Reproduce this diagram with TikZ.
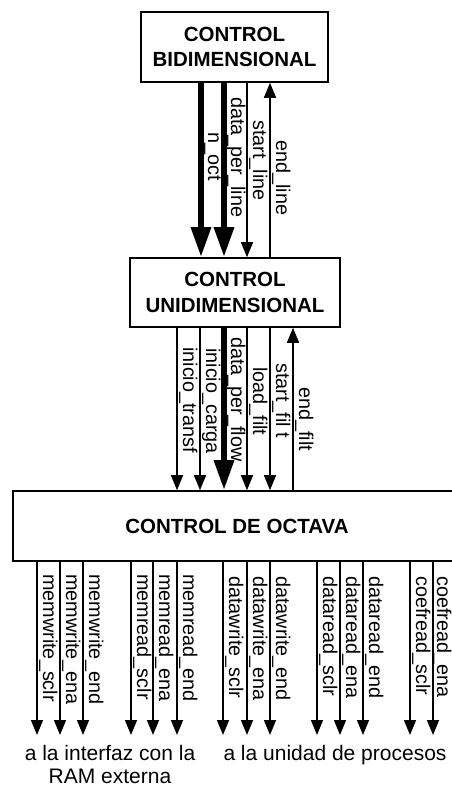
\documentclass[tikz,border=0pt]{standalone}
\usepackage{fontspec}
\setmainfont{Liberation Sans}
\usetikzlibrary{arrows.meta, positioning, calc}

\tikzset{
	ctrlbox/.style={draw, line width=1.6pt, inner sep=0pt, align=center,
			font=\fontsize{20.5}{25.5}\selectfont\bfseries}
}
\tikzset{
	sigtext/.style={rotate=-90, anchor=base west, inner sep=0pt,
			font=\fontsize{19.8}{22}\selectfont}
}
\tikzset{
	desttext/.style={anchor=north, inner sep=0pt, align=center,
			font=\fontsize{21}{23.5}\selectfont}
}
\tikzset{
	thinsig/.style={line width=1.5pt, -{Triangle[length=15pt,width=12pt]}},
	thicksig/.style={line width=6pt, -{Triangle[length=30pt,width=19pt]}},
	backsig/.style={line width=1.5pt, {Triangle[length=15pt,width=12pt]}-}
}

\begin{document}
\begin{tikzpicture}[x=1pt,y=1pt]

			\useasboundingbox (0,0) rectangle (452,-787);
			\clip (0,0) rectangle (452,-787);

			\node[ctrlbox, minimum width=187pt, minimum height=70pt] (bidi) at (234.5,-47) {CONTROL\\BIDIMENSIONAL};
			\node[ctrlbox, minimum width=210pt, minimum height=69pt] (uni) at (235,-292.5) {CONTROL\\UNIDIMENSIONAL};
			\node[ctrlbox, minimum width=448pt, minimum height=70pt] (octava) at (237,-526) {CONTROL DE OCTAVA};

			\begin{scope}
				\coordinate (noct) at (201,0);
				\coordinate (dpl) at (224,0);
				\coordinate (sline) at (247,0);
				\coordinate (eline) at (270,0);

				\draw[thicksig] (bidi.south -| noct) -- (uni.north -| noct);
				\draw[thicksig] (bidi.south -| dpl) -- (uni.north -| dpl);
				\draw[thinsig] (bidi.south -| sline) -- (uni.north -| sline);
				\draw[backsig] (bidi.south -| eline) -- (uni.north -| eline);

				\node[sigtext] (lnoct) at (208,-132) {n\_oct};
				\node[sigtext] (ldpl) at (231,-97) {data\_per\_line};
				\node[sigtext] (lsline) at (253,-120) {start\_line};
				\node[sigtext] (leline) at (276,-140) {end\_line};
			\end{scope}

			\begin{scope}
				\coordinate (itransf) at (177,0);
				\coordinate (icarga) at (200,0);
				\coordinate (dpf) at (224,0);
				\coordinate (lfilt) at (247,0);
				\coordinate (sfilt) at (270,0);
				\coordinate (efilt) at (293,0);

				\draw[thinsig] (uni.south -| itransf) -- (octava.north -| itransf);
				\draw[thinsig] (uni.south -| icarga) -- (octava.north -| icarga);
				\draw[thicksig] (uni.south -| dpf) -- (octava.north -| dpf);
				\draw[thinsig] (uni.south -| lfilt) -- (octava.north -| lfilt);
				\draw[thinsig] (uni.south -| sfilt) -- (octava.north -| sfilt);
				\draw[backsig] (uni.south -| efilt) -- (octava.north -| efilt);

				\node[sigtext] (litransf) at (183,-347) {inicio\_transf};
				\node[sigtext] (licarga) at (206,-348) {inicio\_carga};
				\node[sigtext] (ldpf) at (231,-337) {data\_per\_flow};
				\node[sigtext] (llfilt) at (253,-367) {load\_filt};
				\node[sigtext] (lsfilt) at (276,-363) {start\_fil t};
				\node[sigtext] (lefilt) at (299,-387) {end\_filt};
			\end{scope}

			\begin{scope}
				\coordinate (mwsclr) at (37,-735);
				\coordinate (mwena) at (60,-735);
				\coordinate (mwend) at (83,-735);
				\coordinate (mrsclr) at (131,-735);
				\coordinate (mrena) at (153,-735);
				\coordinate (mrend) at (177,-735);
				\coordinate (dwsclr) at (223,-735);
				\coordinate (dwena) at (247,-735);
				\coordinate (dwend) at (270,-735);
				\coordinate (drsclr) at (317,-735);
				\coordinate (drena) at (340,-735);
				\coordinate (drend) at (363,-735);
				\coordinate (crsclr) at (410,-735);
				\coordinate (crena) at (433,-735);

				\draw[thinsig] (octava.south -| mwsclr) -- (mwsclr);
				\draw[thinsig] (octava.south -| mwena) -- (mwena);
				\draw[thinsig] (octava.south -| mwend) -- (mwend);
				\draw[thinsig] (octava.south -| mrsclr) -- (mrsclr);
				\draw[thinsig] (octava.south -| mrena) -- (mrena);
				\draw[thinsig] (octava.south -| mrend) -- (mrend);
				\draw[thinsig] (octava.south -| dwsclr) -- (dwsclr);
				\draw[thinsig] (octava.south -| dwena) -- (dwena);
				\draw[thinsig] (octava.south -| dwend) -- (dwend);
				\draw[thinsig] (octava.south -| drsclr) -- (drsclr);
				\draw[thinsig] (octava.south -| drena) -- (drena);
				\draw[thinsig] (octava.south -| drend) -- (drend);
				\draw[thinsig] (octava.south -| crsclr) -- (crsclr);
				\draw[thinsig] (octava.south -| crena) -- (crena);

				\node[sigtext] (lmwsclr) at (43,-574) {memwrite\_sclr};
				\node[sigtext] (lmwena) at (66,-574) {memwrite\_ena};
				\node[sigtext] (lmwend) at (89,-574) {memwrite\_end};
				\node[sigtext] (lmrsclr) at (137,-574) {memread\_sclr};
				\node[sigtext] (lmrena) at (159,-574) {memread\_ena};
				\node[sigtext] (lmrend) at (183,-574) {memread\_end};
				\node[sigtext] (ldwsclr) at (229,-576) {datawrite\_sclr};
				\node[sigtext] (ldwena) at (253,-576) {datawrite\_ena};
				\node[sigtext] (ldwend) at (276,-576) {datawrite\_end};
				\node[sigtext] (ldrsclr) at (323,-576) {dataread\_sclr};
				\node[sigtext] (ldrena) at (346,-576) {dataread\_ena};
				\node[sigtext] (ldrend) at (369,-576) {dataread\_end};
				\node[sigtext] (lcrsclr) at (416,-576) {coefread\_sclr};
				\node[sigtext] (lcrena) at (437,-576) {coefread\_ena};
			\end{scope}

			\node[desttext] (ram) at (110,-745) {a la interfaz con la\\RAM externa};
			\node[desttext] (proc) at (335,-745) {a la unidad de procesos};

		\end{tikzpicture}
\end{document}
